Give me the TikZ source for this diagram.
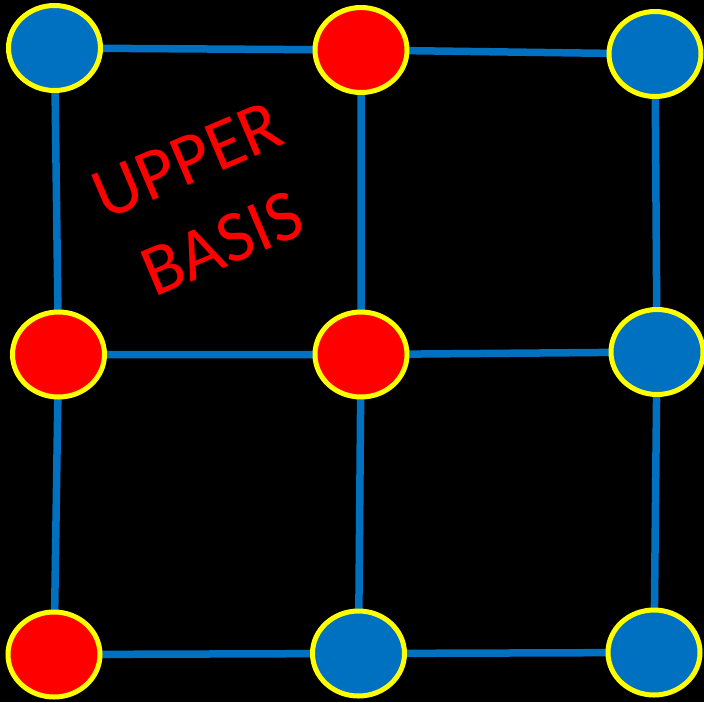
\documentclass[tikz,border=0pt]{standalone}
\usepackage{fontspec}
\setmainfont{Carlito}
\usetikzlibrary{shapes.geometric}
\definecolor{gridblue}{HTML}{0070C0}
\definecolor{dotred}{HTML}{FF0000}
\definecolor{rimyellow}{HTML}{FFFF00}
\pgfdeclarelayer{backdrop}
\pgfdeclarelayer{edges}
\pgfsetlayers{backdrop,edges,main}
\tikzset{
  dot/.style={ellipse, draw=rimyellow, line width=5pt, minimum width=92pt, minimum height=85pt, inner sep=0pt},
  bluedot/.style={dot, fill=gridblue},
  reddot/.style={dot, fill=dotred},
  link/.style={draw=gridblue, line width=7.5pt}
}
\begin{document}
\begin{tikzpicture}[x=1pt,y=-1pt]
  \begin{pgfonlayer}{backdrop}
    \fill[black] (0,0) rectangle (704,702);
  \end{pgfonlayer}
  \useasboundingbox (0,0) rectangle (704,702);

  % lattice points
  \node[bluedot] (a1) at (54.5,48) {};
  \node[reddot]  (b1) at (361,50) {};
  \node[bluedot] (c1) at (655,54) {};
  \node[reddot]  (a2) at (58.5,354.5) {};
  \node[reddot]  (b2) at (361,354.5) {};
  \node[bluedot] (c2) at (657,352) {};
  \node[reddot]  (a3) at (54,654.5) {};
  \node[bluedot] (b3) at (358.5,653.5) {};
  \node[bluedot] (c3) at (654,652.5) {};

  % grid edges behind the points
  \begin{pgfonlayer}{edges}
    \draw[link] (a1.center) -- (b1.center) -- (c1.center);
    \draw[link] (a2.center) -- (b2.center) -- (c2.center);
    \draw[link] (a3.center) -- (b3.center) -- (c3.center);
    \draw[link] (a1.center) -- (a2.center) -- (a3.center);
    \draw[link] (b1.center) -- (b2.center) -- (b3.center);
    \draw[link] (c1.center) -- (c2.center) -- (c3.center);
  \end{pgfonlayer}

  % label
  \node[text=dotred, rotate=23, align=center, font=\fontsize{73}{90}\selectfont] (lbl) at (205,202) {UPPER\\BASIS};
\end{tikzpicture}
\end{document}
